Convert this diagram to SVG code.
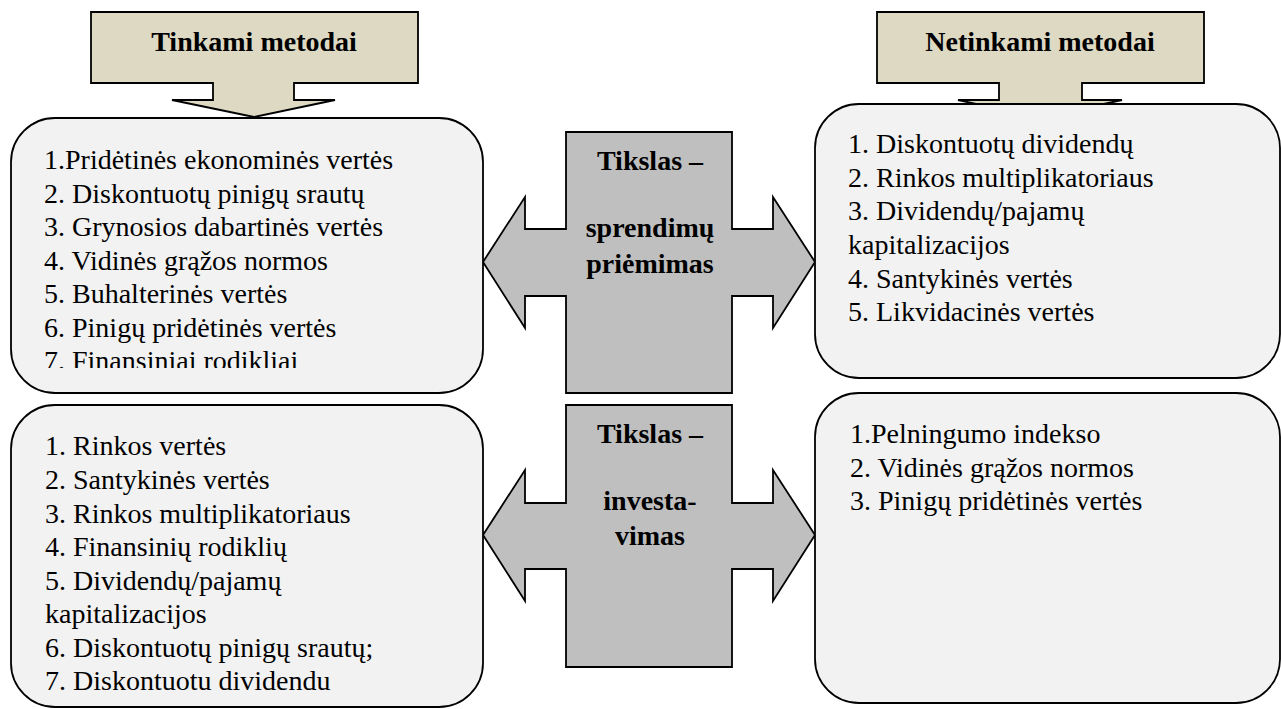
<svg xmlns="http://www.w3.org/2000/svg" width="1281" height="709" viewBox="0 0 1281 709">
  <defs>
    <clipPath id="clip-tl"><rect x="11" y="118" width="472" height="250"/></clipPath>
    <clipPath id="clip-bl"><rect x="11" y="405" width="472" height="285"/></clipPath>
  </defs>

  <rect width="1281" height="709" fill="#fff"/>

  <!-- double-headed goal arrows between the method lists -->
  <g id="connectors" stroke="#000" stroke-width="1.8" fill="#bfbfbf">
    <g id="goal-decisions">
      <path d="M566,132 H732 V229 H773 V197 L815,262 L773,328 V296 H732 V393 H566 V296 H525 V328 L483,262 L525,197 V229 H566 Z"/>
    </g>
    <g id="goal-investing">
      <path d="M566,405 H732 V503 H773 V470 L815,535 L773,601 V569 H732 V667 H566 V569 H525 V601 L483,535 L525,470 V503 H566 Z"/>
    </g>
  </g>
  <g id="goal-labels" font-family="Liberation Serif" font-size="28" font-weight="bold" text-anchor="middle" fill="#000">
    <text x="650" y="170">Tikslas –</text>
    <text x="650" y="237">sprendimų</text>
    <text x="650" y="273">priėmimas</text>
    <text x="650" y="443">Tikslas –</text>
    <text x="650" y="510">investa-</text>
    <text x="650" y="545">vimas</text>
  </g>

  <!-- header callouts -->
  <g id="suitable-header">
    <path d="M91,12 H418 V83 H294 V100 H335 L254,117 L172,100 H213 V83 H91 Z" fill="#ddd9c3" stroke="#000" stroke-width="1.8"/>
    <text x="254" y="51" font-family="Liberation Serif" font-size="28" font-weight="bold" text-anchor="middle">Tinkami metodai</text>
  </g>
  <g id="unsuitable-header">
    <path d="M877,12 H1204 V83 H1082 V100 H1122 L1040,118 L958,100 H999 V83 H877 Z" fill="#ddd9c3" stroke="#000" stroke-width="1.8"/>
    <text x="1040" y="51" font-family="Liberation Serif" font-size="28" font-weight="bold" text-anchor="middle">Netinkami metodai</text>
  </g>

  <!-- suitable methods, decision making -->
  <g id="suitable-decisions">
    <rect x="11" y="118" width="472" height="275" rx="44" ry="44" fill="#f2f2f2" stroke="#000" stroke-width="1.8"/>
    <g clip-path="url(#clip-tl)" font-family="Liberation Serif" font-size="28">
      <text x="44" y="169">1.Pridėtinės ekonominės vertės</text>
      <text x="44" y="203">2. Diskontuotų pinigų srautų</text>
      <text x="44" y="236">3. Grynosios dabartinės vertės</text>
      <text x="44" y="270">4. Vidinės grąžos normos</text>
      <text x="44" y="303">5. Buhalterinės vertės</text>
      <text x="44" y="337">6. Pinigų pridėtinės vertės</text>
      <text x="44" y="370">7. Finansiniai rodikliai</text>
    </g>
  </g>

  <!-- unsuitable methods, decision making -->
  <g id="unsuitable-decisions">
    <rect x="815" y="104" width="465" height="274" rx="44" ry="44" fill="#f2f2f2" stroke="#000" stroke-width="1.8"/>
    <g font-family="Liberation Serif" font-size="28">
      <text x="848" y="153">1. Diskontuotų dividendų</text>
      <text x="848" y="187">2. Rinkos multiplikatoriaus</text>
      <text x="848" y="220">3. Dividendų/pajamų</text>
      <text x="848" y="254">kapitalizacijos</text>
      <text x="848" y="288">4. Santykinės vertės</text>
      <text x="848" y="321">5. Likvidacinės vertės</text>
    </g>
  </g>

  <!-- suitable methods, investing -->
  <g id="suitable-investing">
    <rect x="11" y="405" width="472" height="302" rx="44" ry="44" fill="#f2f2f2" stroke="#000" stroke-width="1.8"/>
    <g clip-path="url(#clip-bl)" font-family="Liberation Serif" font-size="28">
      <text x="45" y="455">1. Rinkos vertės</text>
      <text x="45" y="489">2. Santykinės vertės</text>
      <text x="45" y="523">3. Rinkos multiplikatoriaus</text>
      <text x="45" y="556">4. Finansinių rodiklių</text>
      <text x="45" y="590">5. Dividendų/pajamų</text>
      <text x="45" y="623">kapitalizacijos</text>
      <text x="45" y="657">6. Diskontuotų pinigų srautų;</text>
      <text x="45" y="690">7. Diskontuotų dividendų</text>
    </g>
  </g>

  <!-- unsuitable methods, investing -->
  <g id="unsuitable-investing">
    <rect x="815" y="393" width="465" height="310" rx="44" ry="44" fill="#f2f2f2" stroke="#000" stroke-width="1.8"/>
    <g font-family="Liberation Serif" font-size="28">
      <text x="850" y="443">1.Pelningumo indekso</text>
      <text x="850" y="477">2. Vidinės grąžos normos</text>
      <text x="850" y="510">3. Pinigų pridėtinės vertės</text>
    </g>
  </g>
</svg>
